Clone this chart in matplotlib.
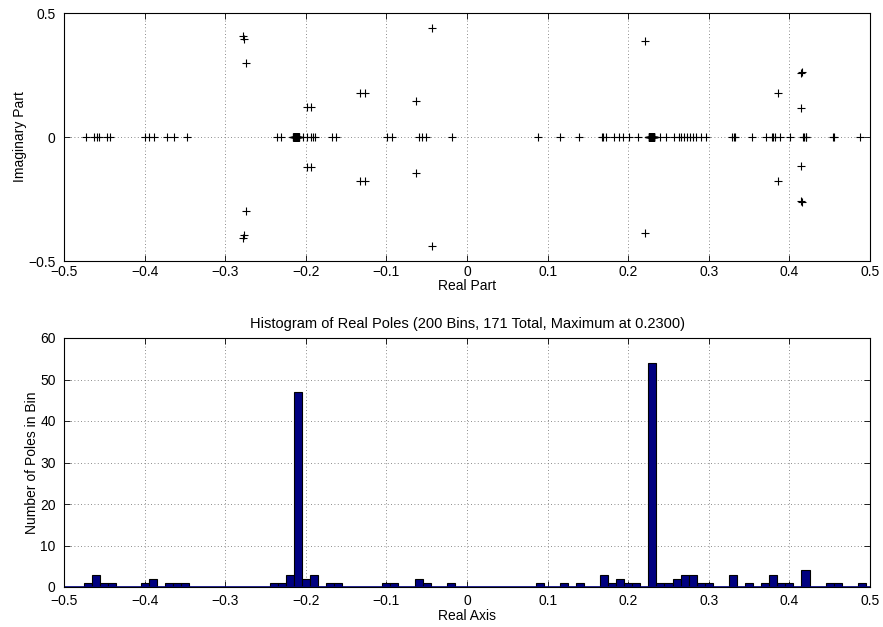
import matplotlib
matplotlib.use("Agg")
import matplotlib.pyplot as plt
import numpy as np

plt.rcParams['font.family'] = ['Liberation Sans', 'DejaVu Sans']

# ---- Real poles (value, multiplicity) ----
real_pole_values = [
    -0.473, -0.463, -0.459, -0.457, -0.447, -0.443,
    -0.400, -0.394, -0.388, -0.372, -0.364, -0.348,
    -0.236, -0.231, -0.2165, -0.216, -0.2155,
    -0.2147, -0.214, -0.2133, -0.2126, -0.2119, -0.2112, -0.2105, -0.2098, -0.2091, -0.2084,
    -0.204, -0.199, -0.194, -0.191, -0.188, -0.168, -0.163,
    -0.0988, -0.0926, -0.0595, -0.0564, -0.0512, -0.0182,
    0.0884, 0.116, 0.139,
    0.167, 0.169, 0.173, 0.182, 0.188, 0.194, 0.201, 0.212,
    0.2256, 0.2263, 0.227, 0.2277, 0.2284, 0.2291, 0.2298, 0.2305, 0.2312, 0.2319, 0.2326,
    0.239, 0.247, 0.257, 0.263, 0.266, 0.269, 0.273, 0.277, 0.281, 0.284, 0.290, 0.296,
    0.329, 0.331, 0.333, 0.353, 0.371, 0.378, 0.380, 0.382, 0.388, 0.401,
    0.417, 0.418, 0.420, 0.421, 0.4535, 0.4555, 0.488,
]
real_pole_counts = [
    1, 1, 1, 1, 1, 1,
    1, 1, 1, 1, 1, 1,
    1, 1, 1, 1, 1,
    5, 5, 5, 5, 5, 5, 5, 4, 4, 4,
    1, 1, 1, 1, 1, 1, 1,
    1, 1, 1, 1, 1, 1,
    1, 1, 1,
    1, 1, 1, 1, 1, 1, 1, 1,
    4, 5, 5, 5, 5, 5, 5, 5, 5, 5, 5,
    1, 1, 1, 1, 1, 1, 1, 1, 1, 1, 1, 1,
    1, 1, 1, 1, 1, 1, 1, 1, 1, 1,
    1, 1, 1, 1, 1, 1, 1,
]

# ---- Complex poles (upper half; conjugates mirrored) ----
cplx_re = [-0.278, -0.277, -0.274, -0.198, -0.194, -0.044, -0.133, -0.126, -0.063,
           0.221, 0.415, 0.416, 0.386, 0.414]
cplx_im = [0.408, 0.396, 0.297, 0.122, 0.122, 0.441, 0.176, 0.176, 0.145,
           0.389, 0.258, 0.263, 0.176, 0.116]

# ---- Histogram bins (centers, counts) ----
bin_centers = [-0.47, -0.46, -0.45, -0.44, -0.40, -0.39, -0.37, -0.36, -0.35,
               -0.24, -0.23, -0.22, -0.21, -0.20, -0.19, -0.17, -0.16,
               -0.10, -0.09, -0.06, -0.05, -0.02,
               0.09, 0.12, 0.14,
               0.17, 0.18, 0.19, 0.20, 0.21, 0.23, 0.24, 0.25, 0.26, 0.27, 0.28, 0.29, 0.30,
               0.33, 0.35, 0.37, 0.38, 0.39, 0.40, 0.42, 0.45, 0.46, 0.49]
bin_counts = [1, 3, 1, 1, 1, 2, 1, 1, 1,
              1, 1, 3, 47, 2, 3, 1, 1,
              1, 1, 2, 1, 1,
              1, 1, 1,
              3, 1, 2, 1, 1, 54, 1, 1, 2, 3, 3, 1, 1,
              3, 1, 1, 3, 1, 1, 4, 1, 1, 1]

xticks = [-0.5, -0.4, -0.3, -0.2, -0.1, 0, 0.1, 0.2, 0.3, 0.4, 0.5]

fig = plt.figure(figsize=(8.83, 6.27), dpi=100)
ax1 = fig.add_axes([64/883, 1-261/627, 806/883, 248/627])
ax2 = fig.add_axes([64/883, 1-587/627, 806/883, 249/627])

def style(ax, xpad):
    ax.tick_params(direction='in', top=True, right=True, labelsize=10, length=4, width=0.6)
    ax.tick_params(axis='x', pad=xpad)
    ax.tick_params(axis='y', pad=6)
    ax.grid(True, linestyle=(0, (1, 3)), color='#666666', linewidth=0.6)
    ax.set_axisbelow(True)
    for s in ax.spines.values():
        s.set_linewidth(0.8)

def fmt(t):
    return f"{t:g}".replace('-', '\u2212')

# Top: pole plot
re_all = np.repeat(real_pole_values, real_pole_counts)
ax1.plot(re_all, np.zeros_like(re_all), '+', color='black', markersize=6, markeredgewidth=0.8)
cr = np.array(cplx_re); ci = np.array(cplx_im)
ax1.plot(np.concatenate([cr, cr]), np.concatenate([ci, -ci]), '+', color='black',
         markersize=6, markeredgewidth=0.8)
ax1.set_xlim(-0.5, 0.5)
ax1.set_ylim(-0.5, 0.5)
ax1.set_xticks(xticks)
ax1.set_yticks([-0.5, 0, 0.5])
ax1.set_xticklabels([fmt(t) for t in xticks])
ax1.set_yticklabels(['\u22120.5', '0', '0.5'])
ax1.set_xlabel('Real Part', fontsize=10, labelpad=0)
ax1.set_ylabel('Imaginary Part', fontsize=10, labelpad=1)
style(ax1, 3)

# Bottom: histogram
ax2.bar(bin_centers, bin_counts, width=0.01, color='#000080', edgecolor='black', linewidth=0.8)
ax2.axhline(0, color='#000080', linewidth=1.2, zorder=1)
ax2.set_xlim(-0.5, 0.5)
ax2.set_ylim(0, 60)
ax2.set_xticks(xticks)
ax2.set_xticklabels([fmt(t) for t in xticks])
ax2.set_yticks([0, 10, 20, 30, 40, 50, 60])
ax2.set_xlabel('Real Axis', fontsize=10, labelpad=1)
ax2.set_ylabel('Number of Poles in Bin', fontsize=10, labelpad=1)
ax2.set_title('Histogram of Real Poles (200 Bins, 171 Total, Maximum at 0.2300)', fontsize=10.5, pad=7)
style(ax2, 5)

fig.savefig('out.png', dpi=100)
